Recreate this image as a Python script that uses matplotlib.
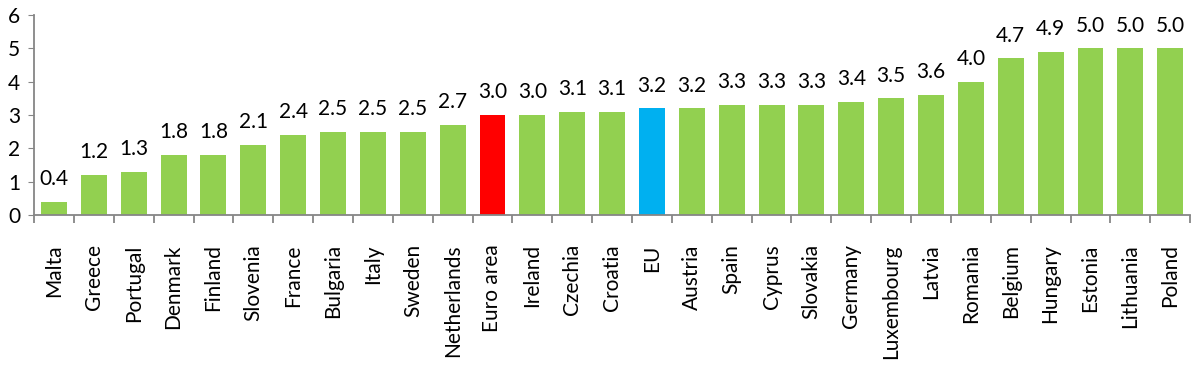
import matplotlib
matplotlib.use("Agg")
import matplotlib.pyplot as plt
import numpy as np

countries = ["Malta", "Greece", "Portugal", "Denmark", "Finland", "Slovenia", "France",
             "Bulgaria", "Italy", "Sweden", "Netherlands", "Euro area", "Ireland", "Czechia",
             "Croatia", "EU", "Austria", "Spain", "Cyprus", "Slovakia", "Germany",
             "Luxembourg", "Latvia", "Romania", "Belgium", "Hungary", "Estonia",
             "Lithuania", "Poland"]
values = [0.4, 1.2, 1.3, 1.8, 1.8, 2.1, 2.4, 2.5, 2.5, 2.5, 2.7, 3.0, 3.0, 3.1, 3.1,
          3.2, 3.2, 3.3, 3.3, 3.3, 3.4, 3.5, 3.6, 4.0, 4.7, 4.9, 5.0, 5.0, 5.0]

plt.rcParams['font.family'] = ['Lato', 'DejaVu Sans']

colors = []
for c in countries:
    if c == "Euro area":
        colors.append("#FF0000")
    elif c == "EU":
        colors.append("#00B0F0")
    else:
        colors.append("#92D050")

fig = plt.figure(figsize=(11.99, 3.70), dpi=100)
ax = fig.add_axes([0.0284, 0.419, 0.9642, 0.5405])

x = np.arange(len(countries))
bars = ax.bar(x, values, width=0.65, color=colors)
for xi, v in zip(x, values):
    ax.annotate("%.1f" % v, (xi, v), xytext=(0, 9), textcoords="offset points",
                ha="center", va="bottom", fontsize=15, color="black")

ax.set_xlim(-0.5, len(countries) - 0.5)
ax.set_ylim(0, 6)
ax.set_yticks(range(0, 7))
ax.tick_params(axis="y", labelsize=15, length=4, color="#868686", pad=6)

ax.set_xticks(x)
ax.set_xticklabels(countries, rotation=90, fontsize=15)
ax.tick_params(axis="x", length=0, pad=21)
ax.set_xticks(np.arange(-0.5, len(countries)), minor=True)
ax.tick_params(axis="x", which="minor", length=6, color="#868686", width=1.3)

for s in ["top", "right"]:
    ax.spines[s].set_visible(False)
for s in ["left", "bottom"]:
    ax.spines[s].set_color("#868686")
    ax.spines[s].set_linewidth(1.3)

fig.savefig("out.png", dpi=100)
